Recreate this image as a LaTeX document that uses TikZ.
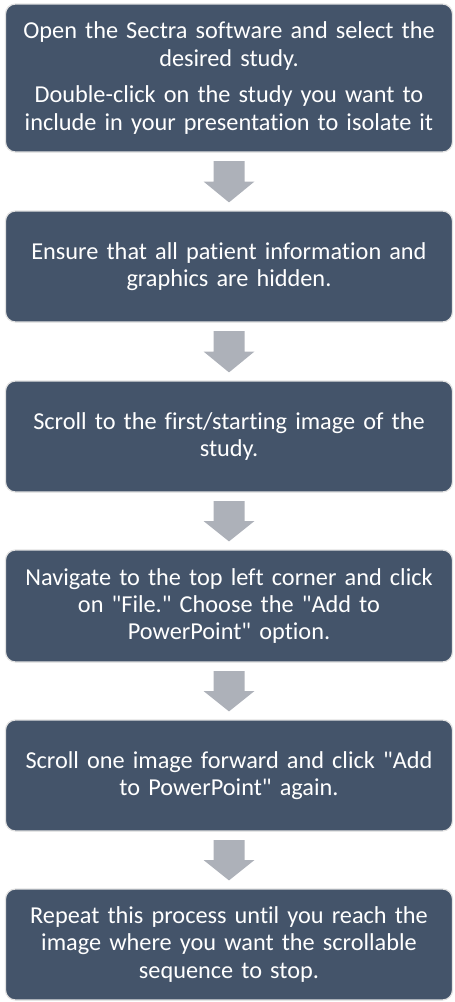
\documentclass[tikz,border=0pt]{standalone}
\usepackage{fontspec}
\setmainfont{Carlito}[Ligatures={TeXOff,NoCommon,NoContextual},RawFeature={-liga;-clig;-calt;-dlig}]
\usetikzlibrary{calc}
\definecolor{boxc}{HTML}{44546A}
\definecolor{edgec}{HTML}{E2E2E2}
\definecolor{arrowc}{HTML}{ADB1B9}
\tikzset{
  stepbox/.style={draw=edgec, line width=1.2pt, fill=boxc, rounded corners=10pt,
    minimum width=447pt, text width=440pt, align=center, text=white,
    font=\fontsize{24.3}{27.4}\selectfont, inner sep=0pt},
  blockarrow/.style={fill=arrowc}
}
\newcommand{\blkarrow}[2]{%
  \fill[blockarrow] ($(#1.south)+(-15.5,-8.5)$) -- ($(#1.south)+(15.5,-8.5)$)
    -- ($(#1.south)!0.5!(#2.north)+(15.5,0)$) -- ($(#1.south)!0.5!(#2.north)+(25.5,0)$)
    -- ($(#2.north)+(0,8)$)
    -- ($(#1.south)!0.5!(#2.north)+(-25.5,0)$) -- ($(#1.south)!0.5!(#2.north)+(-15.5,0)$)
    -- cycle;}
\begin{document}
\begin{tikzpicture}[x=1pt,y=1pt]
\useasboundingbox (0,0) rectangle (455,-1002);
\node[stepbox, minimum height=148pt] (s1) at (229,-78)
  {Open the Sectra software and select the\\ desired study.\\[9pt]
   Double-click on the study you want to\\ include in your presentation to isolate it};
\node[stepbox, minimum height=111pt] (s2) at (229,-266.5)
  {Ensure that all patient information and\\ graphics are hidden.};
\node[stepbox, minimum height=111pt] (s3) at (229,-436.5)
  {Scroll to the first/starting image of the\\ study.};
\node[stepbox, minimum height=112pt] (s4) at (229,-606)
  {Navigate to the top left corner and click\\ on "File." Choose the "Add to\\ PowerPoint" option.};
\node[stepbox, minimum height=111pt] (s5) at (229,-775.5)
  {Scroll one image forward and click "Add\\ to PowerPoint" again.};
\node[stepbox, minimum height=111pt] (s6) at (229,-944.5)
  {Repeat this process until you reach the\\ image where you want the scrollable\\ sequence to stop.};
\blkarrow{s1}{s2}
\blkarrow{s2}{s3}
\blkarrow{s3}{s4}
\blkarrow{s4}{s5}
\blkarrow{s5}{s6}
\end{tikzpicture}
\end{document}
